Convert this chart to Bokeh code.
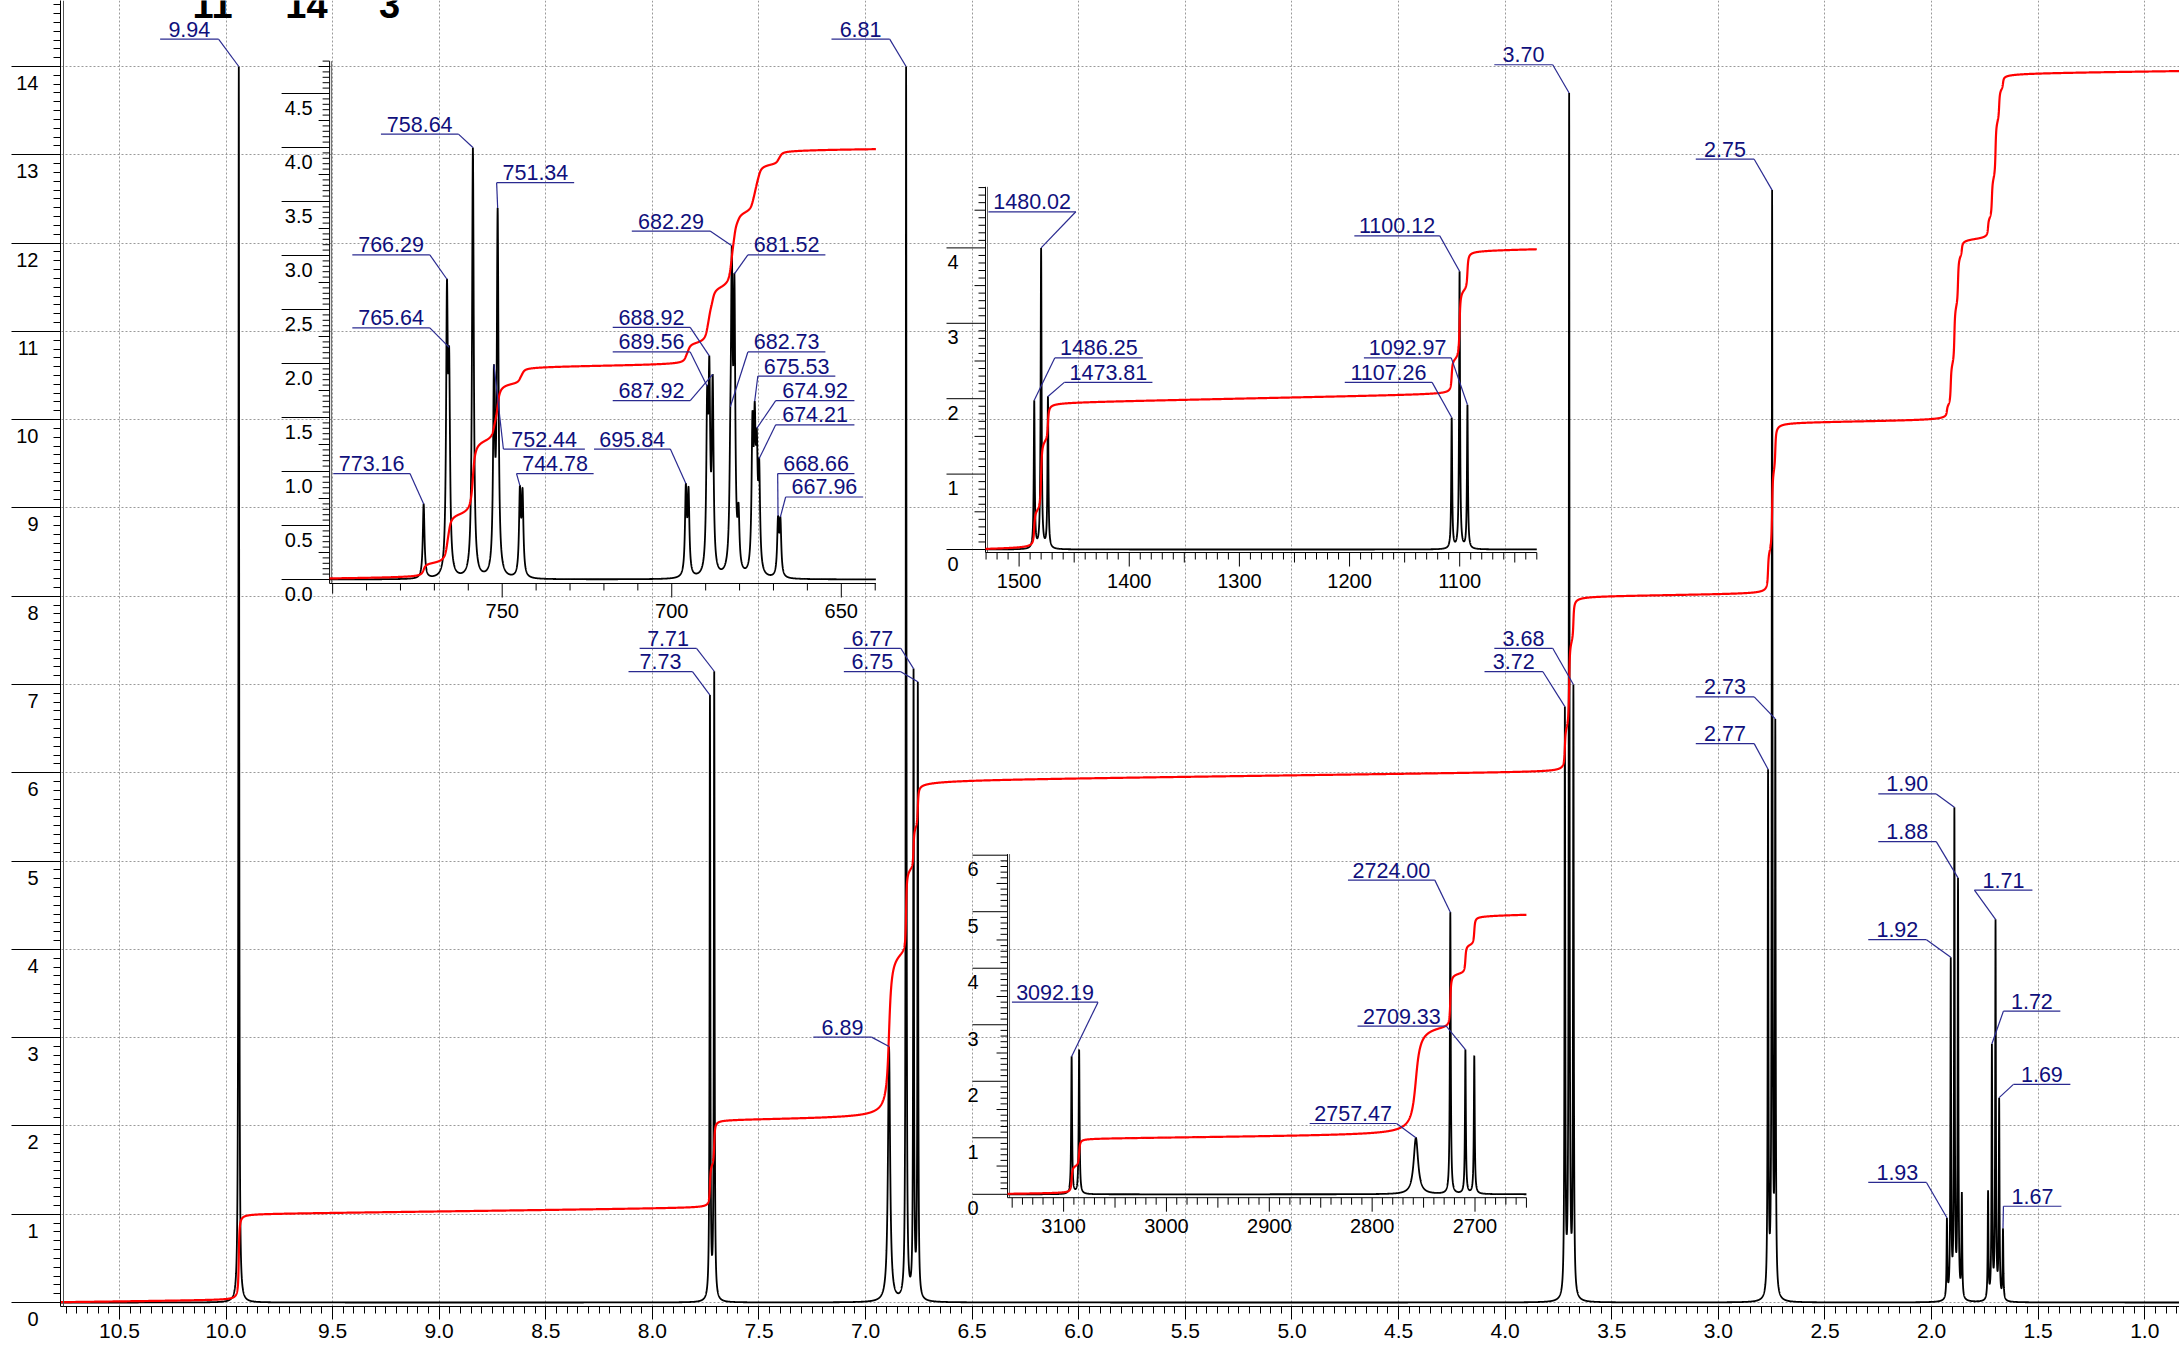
import numpy as np
from bokeh.plotting import figure
from bokeh.models import Range1d, SingleIntervalTicker, NumeralTickFormatter, Span
from bokeh.core.properties import value
from bokeh.embed import file_html
from bokeh.resources import INLINE

FONT = "Liberation Sans"
NAVY = "#10107c"
LEADER = "#2a2a90"

# ---------------- main 1H spectrum (ppm) ----------------
main_peak_ppm = [9.94, 7.73, 7.71, 6.89, 6.81, 6.775, 6.755, 3.72, 3.70, 3.68,
                 2.767, 2.748, 2.733, 1.928, 1.910, 1.893, 1.876, 1.858,
                 1.735, 1.717, 1.700, 1.683, 1.665]
main_peak_height = [14.0, 6.88, 7.15, 2.9, 14.0, 7.18, 7.03, 6.75, 13.7, 7.0,
                    6.04, 12.6, 6.61, 0.96, 3.91, 5.61, 4.81, 1.25,
                    1.27, 2.93, 4.34, 2.32, 0.84]
main_peak_hwhm = [0.002, 0.002, 0.002, 0.006, 0.002, 0.002, 0.002, 0.002, 0.002, 0.002,
                  0.002, 0.002, 0.002, 0.002, 0.002, 0.002, 0.002, 0.002,
                  0.002, 0.002, 0.002, 0.002, 0.002]
main_int_step = [0.974, 0.48, 0.514, 1.914, 0.958, 0.48, 0.479, 0.46, 1.05, 0.4775,
                 0.446, 0.995, 0.5005, 0.119, 0.486, 0.697, 0.597, 0.155,
                 0.203, 0.469, 0.695, 0.372, 0.135]
main_int_width = [0.0025, 0.0025, 0.0025, 0.009, 0.0025, 0.0025, 0.0025, 0.0025, 0.0025, 0.0025,
                  0.0025, 0.0025, 0.0025, 0.0025, 0.0025, 0.0025, 0.0025, 0.0025,
                  0.0025, 0.0025, 0.0025, 0.0025, 0.0025]
main_int_drift = 0.03

main_label_text = ["9.94", "6.81", "3.70", "2.75", "7.71", "7.73", "6.77", "6.75", "6.89",
                   "3.68", "3.72", "2.73", "2.77", "1.90", "1.88", "1.71", "1.92", "1.72",
                   "1.69", "1.93", "1.67"]
main_label_peak = [0, 4, 8, 11, 2, 1, 5, 6, 3, 9, 7, 12, 10, 15, 16, 20, 14, 19, 21, 13, 22]

main_x_ticks_fmt = "0.0"
main_y_tick_labels = ["0", "1", "2", "3", "4", "5", "6", "7", "8", "9", "10", "11", "12", "13", "14"]
top_texts = ["11", "14", "3"]

# ---------------- inset 1 (Hz) ----------------
i1_peak_hz = [773.16, 766.29, 765.64, 758.64, 752.44, 751.34, 744.78, 744.00, 695.84, 695.05,
              689.56, 688.92, 687.92, 682.73, 682.29, 681.52, 680.30, 676.20, 675.53, 674.92,
              674.21, 668.66, 667.96]
i1_peak_height = [0.70, 2.78, 2.15, 4.00, 1.99, 3.44, 0.87, 0.85, 0.89, 0.86,
                  1.79, 2.07, 1.90, 1.60, 3.09, 2.83, 0.71, 1.56, 1.65, 1.40,
                  1.12, 0.59, 0.58]
i1_peak_hwhm = [0.3] * 23
i1_int_step = [0.119, 0.26, 0.199, 0.703, 0.17, 0.3685, 0.072, 0.0715, 0.0925, 0.0925,
               0.17, 0.19, 0.169, 0.13, 0.29, 0.25, 0.0486, 0.11, 0.12, 0.11,
               0.108, 0.06, 0.059]
i1_int_width = [0.5] * 23
i1_int_drift = 0.0002
i1_label_text = ["758.64", "751.34", "766.29", "765.64", "773.16", "752.44", "744.78", "695.84",
                 "682.29", "681.52", "688.92", "689.56", "687.92", "682.73", "675.53", "674.92",
                 "674.21", "668.66", "667.96"]
i1_label_peak = [3, 5, 1, 2, 0, 4, 6, 8, 14, 15, 11, 10, 12, 13, 18, 19, 20, 21, 22]
i1_y_ticks = [0.0, 0.5, 1.0, 1.5, 2.0, 2.5, 3.0, 3.5, 4.0, 4.5]
i1_y_tick_labels = ["0.0", "0.5", "1.0", "1.5", "2.0", "2.5", "3.0", "3.5", "4.0", "4.5"]
i1_x_ticks = [750, 700, 650]
i1_x_tick_labels = ["750", "700", "650"]

# ---------------- inset 2 (Hz) ----------------
i2_peak_hz = [1486.25, 1480.02, 1473.81, 1107.26, 1100.12, 1092.97]
i2_peak_height = [1.98, 4.00, 2.03, 1.75, 3.69, 1.92]
i2_peak_hwhm = [0.5] * 6
i2_int_step = [0.476, 0.968, 0.488, 0.44, 0.958, 0.508]
i2_int_width = [0.6] * 6
i2_int_drift = 0.0003
i2_label_text = ["1480.02", "1486.25", "1473.81", "1100.12", "1092.97", "1107.26"]
i2_label_peak = [1, 0, 2, 4, 5, 3]
i2_y_ticks = [0, 1, 2, 3, 4]
i2_y_tick_labels = ["0", "1", "2", "3", "4"]
i2_x_ticks = [1500, 1400, 1300, 1200, 1100]
i2_x_tick_labels = ["1500", "1400", "1300", "1200", "1100"]

# ---------------- inset 3 (Hz) ----------------
i3_peak_hz = [3092.19, 3084.90, 2757.47, 2724.00, 2709.33, 2700.70]
i3_peak_height = [2.44, 2.56, 1.00, 4.99, 2.56, 2.45]
i3_peak_hwhm = [0.5, 0.5, 2.6, 0.5, 0.5, 0.5]
i3_int_step = [0.477, 0.488, 1.951, 0.9466, 0.507, 0.5]
i3_int_width = [0.6, 0.6, 3.2, 0.6, 0.6, 0.6]
i3_int_drift = 0.0002
i3_label_text = ["3092.19", "2757.47", "2724.00", "2709.33"]
i3_label_peak = [0, 2, 3, 4]
i3_y_ticks = [0, 1, 2, 3, 4, 5, 6]
i3_y_tick_labels = ["0", "1", "2", "3", "4", "5", "6"]
i3_x_ticks = [3100, 3000, 2900, 2800, 2700]
i3_x_tick_labels = ["3100", "3000", "2900", "2800", "2700"]

# ================= layout (positions only) =================
W, H = 2179, 1352
FR_L, FR_R, FR_T, FR_B = 60.0, 2179.0, 0.0, 1306.0   # frame edges, reference px

main_lbl_x0 = [10.309, 7.160, 4.051, 3.106, 8.060, 8.112, 7.102, 7.102, 7.245, 4.051, 4.097,
               3.106, 3.106, 2.250, 2.250, 1.799, 2.297, 1.663, 1.616, 2.297, 1.663]
main_lbl_x1 = [10.035, 6.887, 3.777, 2.832, 7.793, 7.812, 6.835, 6.835, 6.972, 3.777, 3.823,
               2.832, 2.832, 1.978, 1.978, 1.527, 2.024, 1.396, 1.349, 2.024, 1.391]
main_lbl_y = [14.31, 14.31, 14.02, 12.95, 7.41, 7.145, 7.41, 7.145, 3.006, 7.41, 7.145,
              6.86, 6.33, 5.76, 5.22, 4.67, 4.11, 3.30, 2.47, 1.36, 1.09]
top_text_px = [212, 306, 389]
top_text_py = 3.5

i1_lbl_x0 = [785.76, 751.64, 794.20, 794.20, 799.82, 749.65, 745.78, 722.92, 711.78, 677.55,
             717.41, 717.41, 717.41, 677.55, 674.62, 669.34, 669.34, 668.76, 666.41]
i1_lbl_x1 = [762.90, 728.78, 771.34, 771.34, 777.20, 725.62, 723.04, 700.41, 688.69, 654.69,
             694.55, 694.55, 694.55, 654.69, 651.76, 646.13, 646.13, 646.13, 643.55]
i1_lbl_y = [4.124, 3.674, 3.005, 2.330, 0.981, 1.208, 0.981, 1.208, 3.226, 3.005,
            2.334, 2.107, 1.656, 2.107, 1.883, 1.656, 1.432, 0.981, 0.764]
i2_lbl_x0 = [1527.83, 1467.65, 1458.96, 1195.65, 1186.96, 1204.35]
i2_lbl_x1 = [1448.52, 1387.65, 1378.96, 1118.09, 1107.65, 1125.04]
i2_lbl_y = [4.479, 2.541, 2.217, 4.160, 2.541, 2.217]
i3_lbl_x0 = [3150.23, 2860.74, 2823.53, 2814.23]
i3_lbl_x1 = [3066.51, 2776.28, 2739.07, 2727.91]
i3_lbl_y = [3.40, 1.253, 5.559, 2.976]

INSETS = {
    "i1": dict(xa=(750, 501.7, 650, 840.8), ya=(0.0, 579.0, 4.5, 93.0), x_lo=800.9, x_hi=639.8,
               y_lo=-0.037, y_hi=4.80, ymaj_len=48, ylbl_gap=17, ymin=0.05, ymid=0.25,
               xmin=10, xmid=50),
    "i2": dict(xa=(1500, 1018.6, 1100, 1459.2), ya=(0, 549.0, 4, 247.4), x_lo=1530.5, x_hi=1030,
               y_lo=-0.04, y_hi=4.81, ymaj_len=39, ylbl_gap=27, ymin=0.1, ymid=0.5,
               xmin=10, xmid=50),
    "i3": dict(xa=(3100, 1063.1, 2700, 1474.5), ya=(0, 1193.8, 6, 854.7), x_lo=3154.5, x_hi=2650,
               y_lo=-0.06, y_hi=6.02, ymaj_len=35, ylbl_gap=29, ymin=0.1, ymid=0.5,
               xmin=10, xmid=50),
}


def lin(v1, p1, v2, p2):
    k = (v2 - v1) / (p2 - p1)
    return (lambda px: v1 + (px - p1) * k), k


def lorentz(x, c, w):
    return w * w / ((x - c) ** 2 + w * w)


def make_spectrum(pos, height, hwhm, lo, hi, step):
    pos = np.asarray(pos, float)
    height = np.asarray(height, float)
    hwhm = np.asarray(hwhm, float)
    a, b = min(lo, hi), max(lo, hi)
    parts = [np.arange(a, b, step), np.array([a, b]), pos]
    for c, w in zip(pos, hwhm):
        half = 30 * w
        parts.append(np.arange(c - half, c + half, w / 6.0))
    x = np.unique(np.concatenate(parts))
    x = x[(x >= a) & (x <= b)]
    M = lorentz(pos[:, None], pos[None, :], hwhm[None, :])
    amp = np.linalg.solve(M, height)
    y = lorentz(x[:, None], pos[None, :], hwhm[None, :]) @ amp
    return x, y


def make_integral(x, pos, step, width, drift, start):
    total = drift * np.abs(start - x)
    for c, s, w in zip(pos, step, width):
        total = total + s * (0.5 + np.arctan((c - x) / w) / np.pi)
    return total


def draw_labels(p, texts, peak_idx, x0s, x1s, ys, pos, height, kw):
    pos = np.asarray(pos, float)
    height = np.asarray(height, float)
    x0s = np.asarray(x0s, float)
    x1s = np.asarray(x1s, float)
    ys = np.asarray(ys, float)
    idx = np.asarray(peak_idx)
    px, ph = pos[idx], height[idx]
    ends = np.where(np.abs(x0s - px) < np.abs(x1s - px), x0s, x1s)
    p.segment(x0=x0s, y0=ys, x1=x1s, y1=ys, line_color=LEADER, line_width=1.2, **kw)
    p.segment(x0=ends, y0=ys, x1=px, y1=ph, line_color=LEADER, line_width=1.2, **kw)
    p.text(x=(x0s + x1s) / 2, y=ys, text=list(texts), text_align="center",
           text_baseline="middle", y_offset=-10, text_font=value(FONT),
           text_font_size=value("21.5px"), text_color=NAVY, **kw)


# ================= main figure =================
fx, kx = lin(9.94, 238.3, 1.93, 1946.0)
fy, ky = lin(0.0, 1302.0, 14.0, 66.0)

p = figure(width=W, height=H, output_backend="svg", toolbar_location=None,
           x_range=Range1d(fx(FR_L), fx(FR_R)), y_range=Range1d(fy(FR_B), fy(FR_T)),
           min_border_left=int(FR_L), min_border_right=0, min_border_top=0,
           min_border_bottom=int(H - FR_B))
p.outline_line_color = None
p.background_fill_color = "white"
p.border_fill_color = "white"

# axes
p.xaxis.ticker = SingleIntervalTicker(interval=0.5, num_minor_ticks=10)
p.xaxis.formatter = NumeralTickFormatter(format=main_x_ticks_fmt)
p.xaxis.major_tick_out = 13
p.xaxis.major_tick_in = 0
p.xaxis.minor_tick_out = 7
p.xaxis.minor_tick_in = 0
p.xaxis.major_label_standoff = 4
p.xaxis.major_label_text_font = FONT
p.xaxis.major_label_text_font_size = "21px"
p.xaxis.major_label_text_color = "black"
p.xaxis.axis_line_color = "black"
p.xaxis.major_tick_line_color = "black"
p.xaxis.minor_tick_line_color = "black"

p.yaxis.ticker = SingleIntervalTicker(interval=1, num_minor_ticks=10)
p.yaxis.major_label_overrides = {i: "\n" + lbl for i, lbl in enumerate(main_y_tick_labels)}
p.yaxis.major_label_text_line_height = 1.5
p.yaxis.major_tick_out = 49
p.yaxis.major_tick_in = 0
p.yaxis.minor_tick_out = 7
p.yaxis.minor_tick_in = 0
p.yaxis.major_label_standoff = -27
p.yaxis.major_label_text_font = FONT
p.yaxis.major_label_text_font_size = "20px"
p.yaxis.major_label_text_color = "black"
p.yaxis.axis_line_color = "black"
p.yaxis.major_tick_line_color = "black"
p.yaxis.minor_tick_line_color = "black"

for g in (p.xgrid, p.ygrid):
    g.grid_line_color = "#9a9a9a"
    g.grid_line_dash = "2 2"
    g.grid_line_width = 1
p.xgrid.ticker = SingleIntervalTicker(interval=0.5)
p.ygrid.ticker = SingleIntervalTicker(interval=1)

# second (inner) frame line, as in the reference
p.add_layout(Span(location=fx(FR_L + 3), dimension="height", line_color="#555555", line_width=1))

# spectrum + integral
x_start, x_end = fx(FR_L), fx(FR_R)
mx, my = make_spectrum(main_peak_ppm, main_peak_height, main_peak_hwhm, x_start, x_end, 0.002)
mi = make_integral(mx, main_peak_ppm, main_int_step, main_int_width, main_int_drift, x_start)
p.line(mx, my, line_color="black", line_width=1.8)
p.line(mx, mi, line_color="#ff0000", line_width=2.2)
draw_labels(p, main_label_text, main_label_peak, main_lbl_x0, main_lbl_x1, main_lbl_y,
            main_peak_ppm, main_peak_height, {})

p.text(x=[fx(v) for v in top_text_px], y=[fy(top_text_py)] * 3, text=top_texts,
       text_align="center", text_baseline="middle", text_font=value(FONT),
       text_font_size=value("38px"), text_font_style="bold", text_color="black")

# ================= insets =================
inset_data = {
    "i1": (i1_peak_hz, i1_peak_height, i1_peak_hwhm, i1_int_step, i1_int_width, i1_int_drift,
           i1_label_text, i1_label_peak, i1_lbl_x0, i1_lbl_x1, i1_lbl_y,
           i1_y_ticks, i1_y_tick_labels, i1_x_ticks, i1_x_tick_labels, 0.05),
    "i2": (i2_peak_hz, i2_peak_height, i2_peak_hwhm, i2_int_step, i2_int_width, i2_int_drift,
           i2_label_text, i2_label_peak, i2_lbl_x0, i2_lbl_x1, i2_lbl_y,
           i2_y_ticks, i2_y_tick_labels, i2_x_ticks, i2_x_tick_labels, 0.1),
    "i3": (i3_peak_hz, i3_peak_height, i3_peak_hwhm, i3_int_step, i3_int_width, i3_int_drift,
           i3_label_text, i3_label_peak, i3_lbl_x0, i3_lbl_x1, i3_lbl_y,
           i3_y_ticks, i3_y_tick_labels, i3_x_ticks, i3_x_tick_labels, 0.1),
}


def ticks_between(lo, hi, step):
    a, b = min(lo, hi), max(lo, hi)
    n0 = int(np.ceil(a / step - 1e-9))
    n1 = int(np.floor(b / step + 1e-9))
    return np.array([k * step for k in range(n0, n1 + 1)])


for nm, geo in INSETS.items():
    (pos, hgt, hw, istep, iwid, idrift, ltxt, lpk, lx0, lx1, ly,
     yt, ytl, xt, xtl, sstep) = inset_data[nm]
    gx, gkx = lin(*geo["xa"])
    gy, gky = lin(*geo["ya"])
    p.extra_x_ranges[nm + "x"] = Range1d(gx(FR_L), gx(FR_R))
    p.extra_y_ranges[nm + "y"] = Range1d(gy(FR_B), gy(FR_T))
    kw = dict(x_range_name=nm + "x", y_range_name=nm + "y")
    x_lo, x_hi, y_lo, y_hi = geo["x_lo"], geo["x_hi"], geo["y_lo"], geo["y_hi"]

    # axis lines
    p.segment(x0=[x_lo, x_lo + 2 * gkx, x_lo], y0=[y_lo, y_lo, y_lo],
              x1=[x_lo, x_lo + 2 * gkx, x_hi], y1=[y_hi, y_hi, y_lo],
              line_color=["black", "#666666", "black"], line_width=1, **kw)
    # y ticks
    yt_arr = np.asarray(yt, float)
    ymid = ticks_between(0, y_hi, geo["ymid"])
    ymin = ticks_between(0, y_hi, geo["ymin"])
    ymid = np.array([v for v in ymid if np.min(np.abs(yt_arr - v)) > 1e-6])
    ymin = np.array([v for v in ymin if np.min(np.abs(yt_arr - v)) > 1e-6
                     and (len(ymid) == 0 or np.min(np.abs(ymid - v)) > 1e-6)])
    for vals, L in ((yt_arr, geo["ymaj_len"]), (ymid, 11), (ymin, 7)):
        if len(vals):
            p.segment(x0=np.full(len(vals), x_lo), y0=vals,
                      x1=np.full(len(vals), x_lo - L * gkx), y1=vals,
                      line_color="black", line_width=1, **kw)
    p.text(x=[x_lo] * len(yt), y=list(yt), text=list(ytl), x_offset=-geo["ylbl_gap"], y_offset=14,
           text_align="right", text_baseline="middle", text_font=value(FONT),
           text_font_size=value("20px"), text_color="black", **kw)
    # x ticks
    xt_arr = np.asarray(xt, float)
    xmid = ticks_between(x_hi, x_lo, geo["xmid"])
    xmin = ticks_between(x_hi, x_lo, geo["xmin"])
    xmid = np.array([v for v in xmid if np.min(np.abs(xt_arr - v)) > 1e-6])
    xmin = np.array([v for v in xmin if np.min(np.abs(xt_arr - v)) > 1e-6
                     and (len(xmid) == 0 or np.min(np.abs(xmid - v)) > 1e-6)])
    for vals, L in ((xt_arr, 14), (xmid, 10), (xmin, 7)):
        if len(vals):
            p.segment(x0=vals, y0=np.full(len(vals), y_lo),
                      x1=vals, y1=np.full(len(vals), y_lo + L * gky),
                      line_color="black", line_width=1, **kw)
    p.text(x=list(xt), y=[y_lo] * len(xt), text=list(xtl), y_offset=28,
           text_align="center", text_baseline="middle", text_font=value(FONT),
           text_font_size=value("20px"), text_color="black", **kw)

    # spectrum + integral
    sx, sy = make_spectrum(pos, hgt, hw, x_lo, x_hi, sstep)
    si = make_integral(sx, pos, istep, iwid, idrift, x_lo)
    p.line(sx, sy, line_color="black", line_width=1.8, **kw)
    p.line(sx, si, line_color="#ff0000", line_width=2.2, **kw)
    draw_labels(p, ltxt, lpk, lx0, lx1, ly, pos, hgt, kw)

open("out.html", "w").write(file_html(p, INLINE))
